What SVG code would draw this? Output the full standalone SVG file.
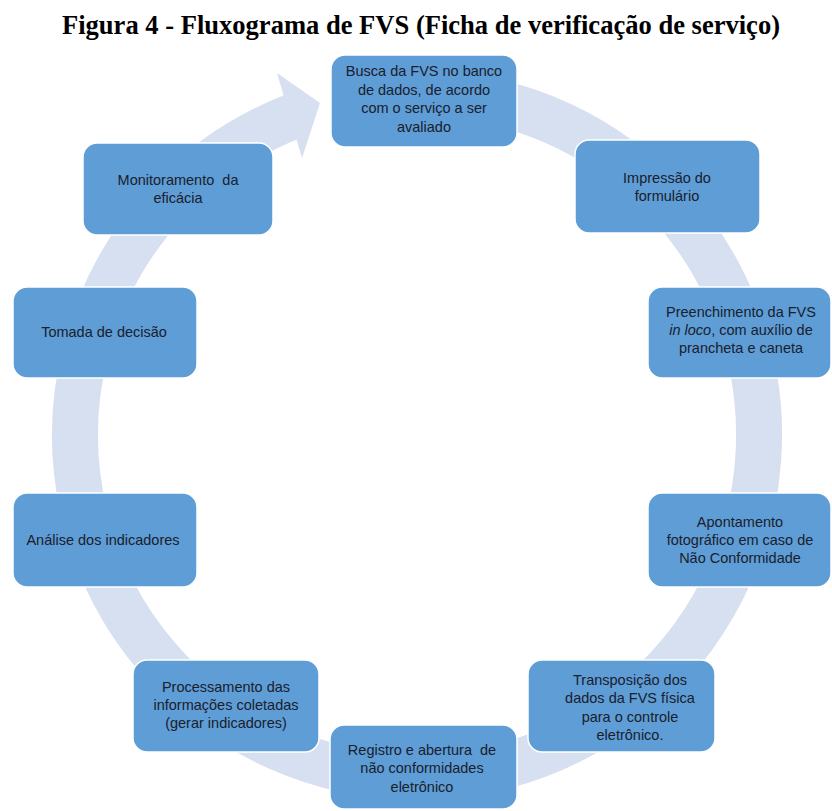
<svg xmlns="http://www.w3.org/2000/svg" width="832" height="811" viewBox="0 0 832 811">
<style>
.box{fill:#5E9DD6;stroke:#FFFFFF;stroke-width:1.5}
.t{font-family:"Liberation Sans",Arial,sans-serif;font-size:14.5px;fill:#1A202C;text-anchor:middle;white-space:pre}
.title{font-family:"Liberation Serif","Times New Roman",serif;font-weight:bold;font-size:27px;fill:#000;text-anchor:middle}
</style>
<rect width="832" height="811" fill="#FFFFFF"/>
<text class="title" x="421" y="34" textLength="718" lengthAdjust="spacingAndGlyphs">Figura 4 - Fluxograma de FVS (Ficha de verificação de serviço)</text>
<g id="connectors">
<path d="M476.4,98.2 A342,342 0 1 1 297.2,114.7" fill="none" stroke="#D7E0F0" stroke-width="46"/>
<polygon points="277,73 320,103 302,158" fill="#D7E0F0"/>
</g>
<g id="n1"><rect class="box" x="331" y="55" width="186" height="92" rx="14"/>
<text class="t" x="424" y="76">Busca da FVS no banco</text>
<text class="t" x="424" y="94.5">de dados, de acordo</text>
<text class="t" x="424" y="113">com o serviço a ser</text>
<text class="t" x="424" y="131.5">avaliado</text></g>
<g id="n2"><rect class="box" x="575" y="140" width="185" height="93" rx="14"/>
<text class="t" x="667" y="183">Impressão do</text>
<text class="t" x="667" y="201">formulário</text></g>
<g id="n3"><rect class="box" x="648" y="287" width="183" height="91" rx="14"/>
<text class="t" x="741" y="317">Preenchimento da FVS</text>
<text class="t" x="741" y="335"><tspan font-style="italic">in loco</tspan>, com auxílio de</text>
<text class="t" x="741" y="353">prancheta e caneta</text></g>
<g id="n4"><rect class="box" x="648" y="493" width="183" height="94" rx="14"/>
<text class="t" x="740" y="527">Apontamento</text>
<text class="t" x="740" y="545">fotográfico em caso de</text>
<text class="t" x="740" y="563">Não Conformidade</text></g>
<g id="n5"><rect class="box" x="528" y="660" width="187" height="92" rx="14"/>
<text class="t" x="630" y="685">Transposição dos</text>
<text class="t" x="630" y="703">dados da FVS física</text>
<text class="t" x="630" y="722">para o controle</text>
<text class="t" x="630" y="740">eletrônico.</text></g>
<g id="n6"><rect class="box" x="330" y="725" width="187" height="84" rx="14"/>
<text class="t" x="422" y="755">Registro e abertura  de</text>
<text class="t" x="422" y="773">não conformidades</text>
<text class="t" x="422" y="792">eletrônico</text></g>
<g id="n7"><rect class="box" x="133" y="660" width="186" height="92" rx="14"/>
<text class="t" x="226" y="692">Processamento das</text>
<text class="t" x="226" y="710">informações coletadas</text>
<text class="t" x="226" y="728">(gerar indicadores)</text></g>
<g id="n8"><rect class="box" x="13" y="493" width="184" height="94" rx="14"/>
<text class="t" x="103" y="545">Análise dos indicadores</text></g>
<g id="n9"><rect class="box" x="13" y="287" width="184" height="91" rx="14"/>
<text class="t" x="104" y="337">Tomada de decisão</text></g>
<g id="n10"><rect class="box" x="83" y="143" width="190" height="92" rx="14"/>
<text class="t" x="178" y="185">Monitoramento  da</text>
<text class="t" x="178" y="203">eficácia</text></g>
</svg>
